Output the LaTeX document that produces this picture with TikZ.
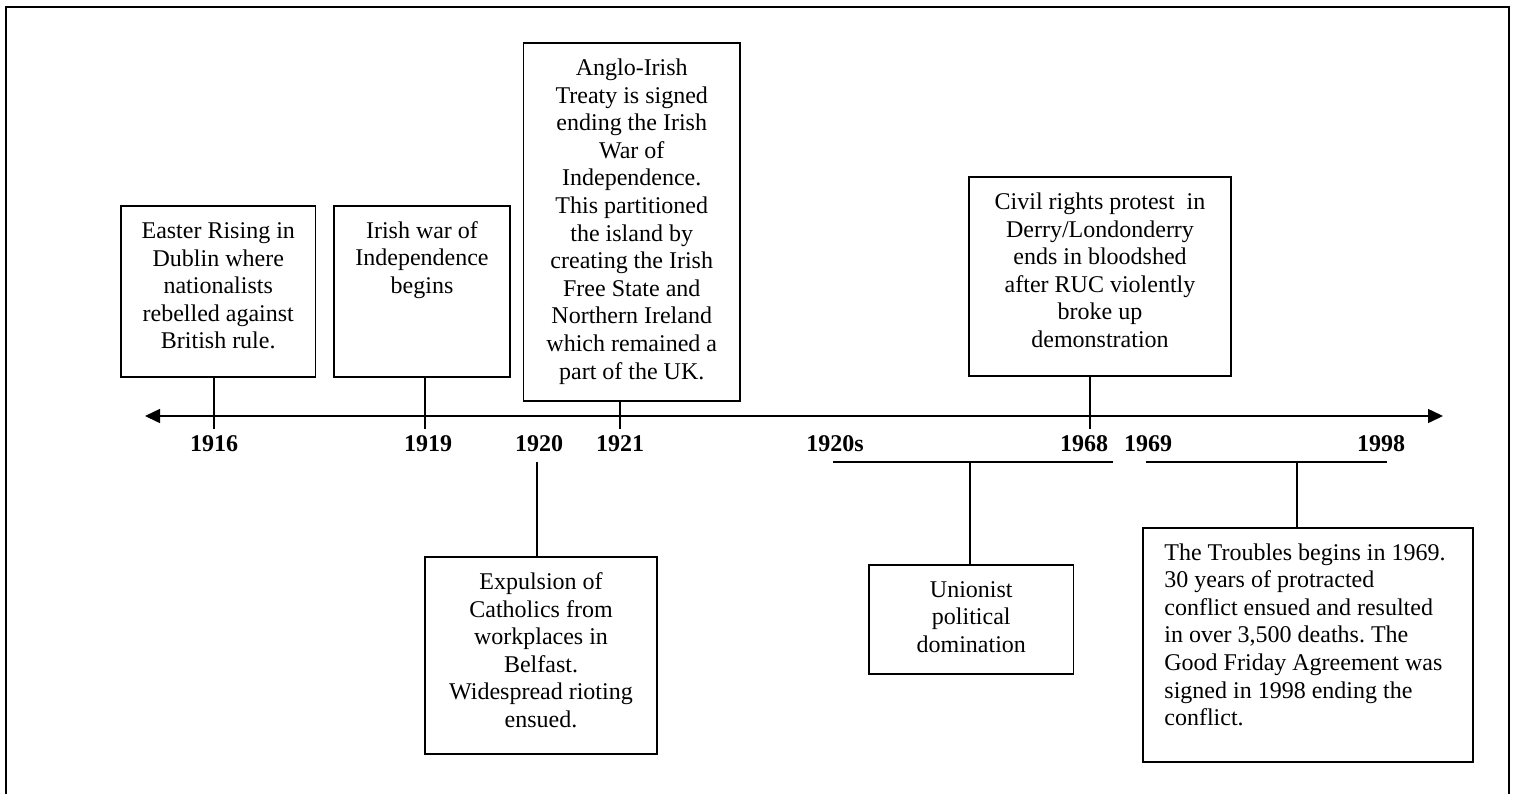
\documentclass[tikz,border=0pt]{standalone}
\usepackage{fontspec}
\setmainfont{Liberation Serif}
\usetikzlibrary{arrows.meta}
\frenchspacing
\tikzset{
  evbox/.style={draw, line width=0.6pt, inner sep=0pt, outer sep=0pt},
  evtext/.style={font=\fontsize{12pt}{13.8pt}\selectfont, align=center, inner sep=0pt, anchor=base},
  yearlbl/.style={font=\fontsize{12pt}{13.8pt}\selectfont\bfseries, inner sep=0pt, anchor=base},
  link/.style={line width=0.6pt},
  axisline/.style={line width=0.75pt, {Triangle[length=7.5pt,width=7pt]}-{Triangle[length=7.5pt,width=7pt]}},
  bracket/.style={line width=0.9pt}
}
\begin{document}
\begin{tikzpicture}[x=0.5pt,y=-0.5pt]
\useasboundingbox (0,0) rectangle (1515,794);
% frame (open at the bottom)
\coordinate (fbl) at (6,794);
\coordinate (ftl) at (6,7);
\coordinate (ftr) at (1509,7);
\coordinate (fbr) at (1509,794);
\draw[line width=1pt] (fbl) -- (ftl) -- (ftr) -- (fbr);

% timeline
\coordinate (tl) at (145,416);
\coordinate (tr) at (1443,416);
\draw[axisline] (tl) -- (tr);

% tick ends
\coordinate (t1916) at (214,429);
\coordinate (t1919) at (425,429);
\coordinate (t1921) at (620,429);
\coordinate (t1968) at (1090,429);
\coordinate (t1920) at (537,462);

% boxes above (text nodes are placed by the baseline of their last line)
\node[evbox, minimum width=97.25pt, minimum height=85.5pt] (easter) at (218.25,291.5) {};
\node[evtext] (easterT) at (218.25,348.9) {Easter Rising in\\Dublin where\\nationalists\\rebelled against\\British rule.};

\node[evbox, minimum width=88pt, minimum height=85.5pt] (irish) at (422,291.5) {};
\node[evtext] (irishT) at (422,293.2) {Irish war of\\Independence\\begins};

\node[evbox, minimum width=108.25pt, minimum height=179pt] (anglo) at (631.75,222) {};
\node[evtext] (angloT) at (631.75,379.1) {Anglo-Irish\\Treaty is signed\\ending the Irish\\War of\\Independence.\\This partitioned\\the island by\\creating the Irish\\Free State and\\Northern Ireland\\which remained a\\part of the UK.};

\node[evbox, minimum width=131pt, minimum height=99.5pt] (civil) at (1100,276.5) {};
\node[evtext] (civilT) at (1100,347.5) {Civil rights protest\ \ in\\Derry/Londonderry\\ends in bloodshed\\after RUC violently\\broke up\\demonstration};

% boxes below
\node[evbox, minimum width=116pt, minimum height=98.5pt] (expul) at (541,655.5) {};
\node[evtext] (expulT) at (541,727.5) {Expulsion of\\Catholics from\\workplaces in\\Belfast.\\Widespread rioting\\ensued.};

\node[evbox, minimum width=102.25pt, minimum height=54.5pt] (union) at (971.25,619.5) {};
\node[evtext] (unionT) at (971.25,652.5) {Unionist\\political\\domination};

\node[evbox, minimum width=165pt, minimum height=117pt] (troub) at (1308,645) {};
\node[evtext, align=left, anchor=base west] (troubT) at (1164,725.6) {The Troubles begins in 1969.\\30 years of protracted\\conflict ensued and resulted\\in over 3,500 deaths. The\\Good Friday Agreement was\\signed in 1998 ending the\\conflict.};

% connectors to the timeline
\draw[link] (easter.south -| t1916) -- (t1916);
\draw[link] (irish.south -| t1919) -- (t1919);
\draw[link] (anglo.south -| t1921) -- (t1921);
\draw[link] (civil.south -| t1968) -- (t1968);
\draw[link] (t1920) -- (expul.north -| t1920);

% brackets
\coordinate (b1l) at (833,462);
\coordinate (b1r) at (1113,462);
\coordinate (b1m) at (970,462);
\coordinate (b2l) at (1145.5,462);
\coordinate (b2r) at (1387,462);
\coordinate (b2m) at (1297,462);
\draw[bracket] (b1l) -- (b1r);
\draw[bracket] (b2l) -- (b2r);
\draw[link] (b1m) -- (union.north -| b1m);
\draw[link] (b2m) -- (troub.north -| b2m);

% year labels
\node[yearlbl] (y1916) at (214,451) {1916};
\node[yearlbl] (y1919) at (428,451) {1919};
\node[yearlbl] (y1920) at (539,451) {1920};
\node[yearlbl] (y1921) at (620,451) {1921};
\node[yearlbl] (y1920s) at (835,451) {1920s};
\node[yearlbl] (y1968) at (1084,451) {1968};
\node[yearlbl] (y1969) at (1148,451) {1969};
\node[yearlbl] (y1998) at (1381,451) {1998};
\end{tikzpicture}
\end{document}
